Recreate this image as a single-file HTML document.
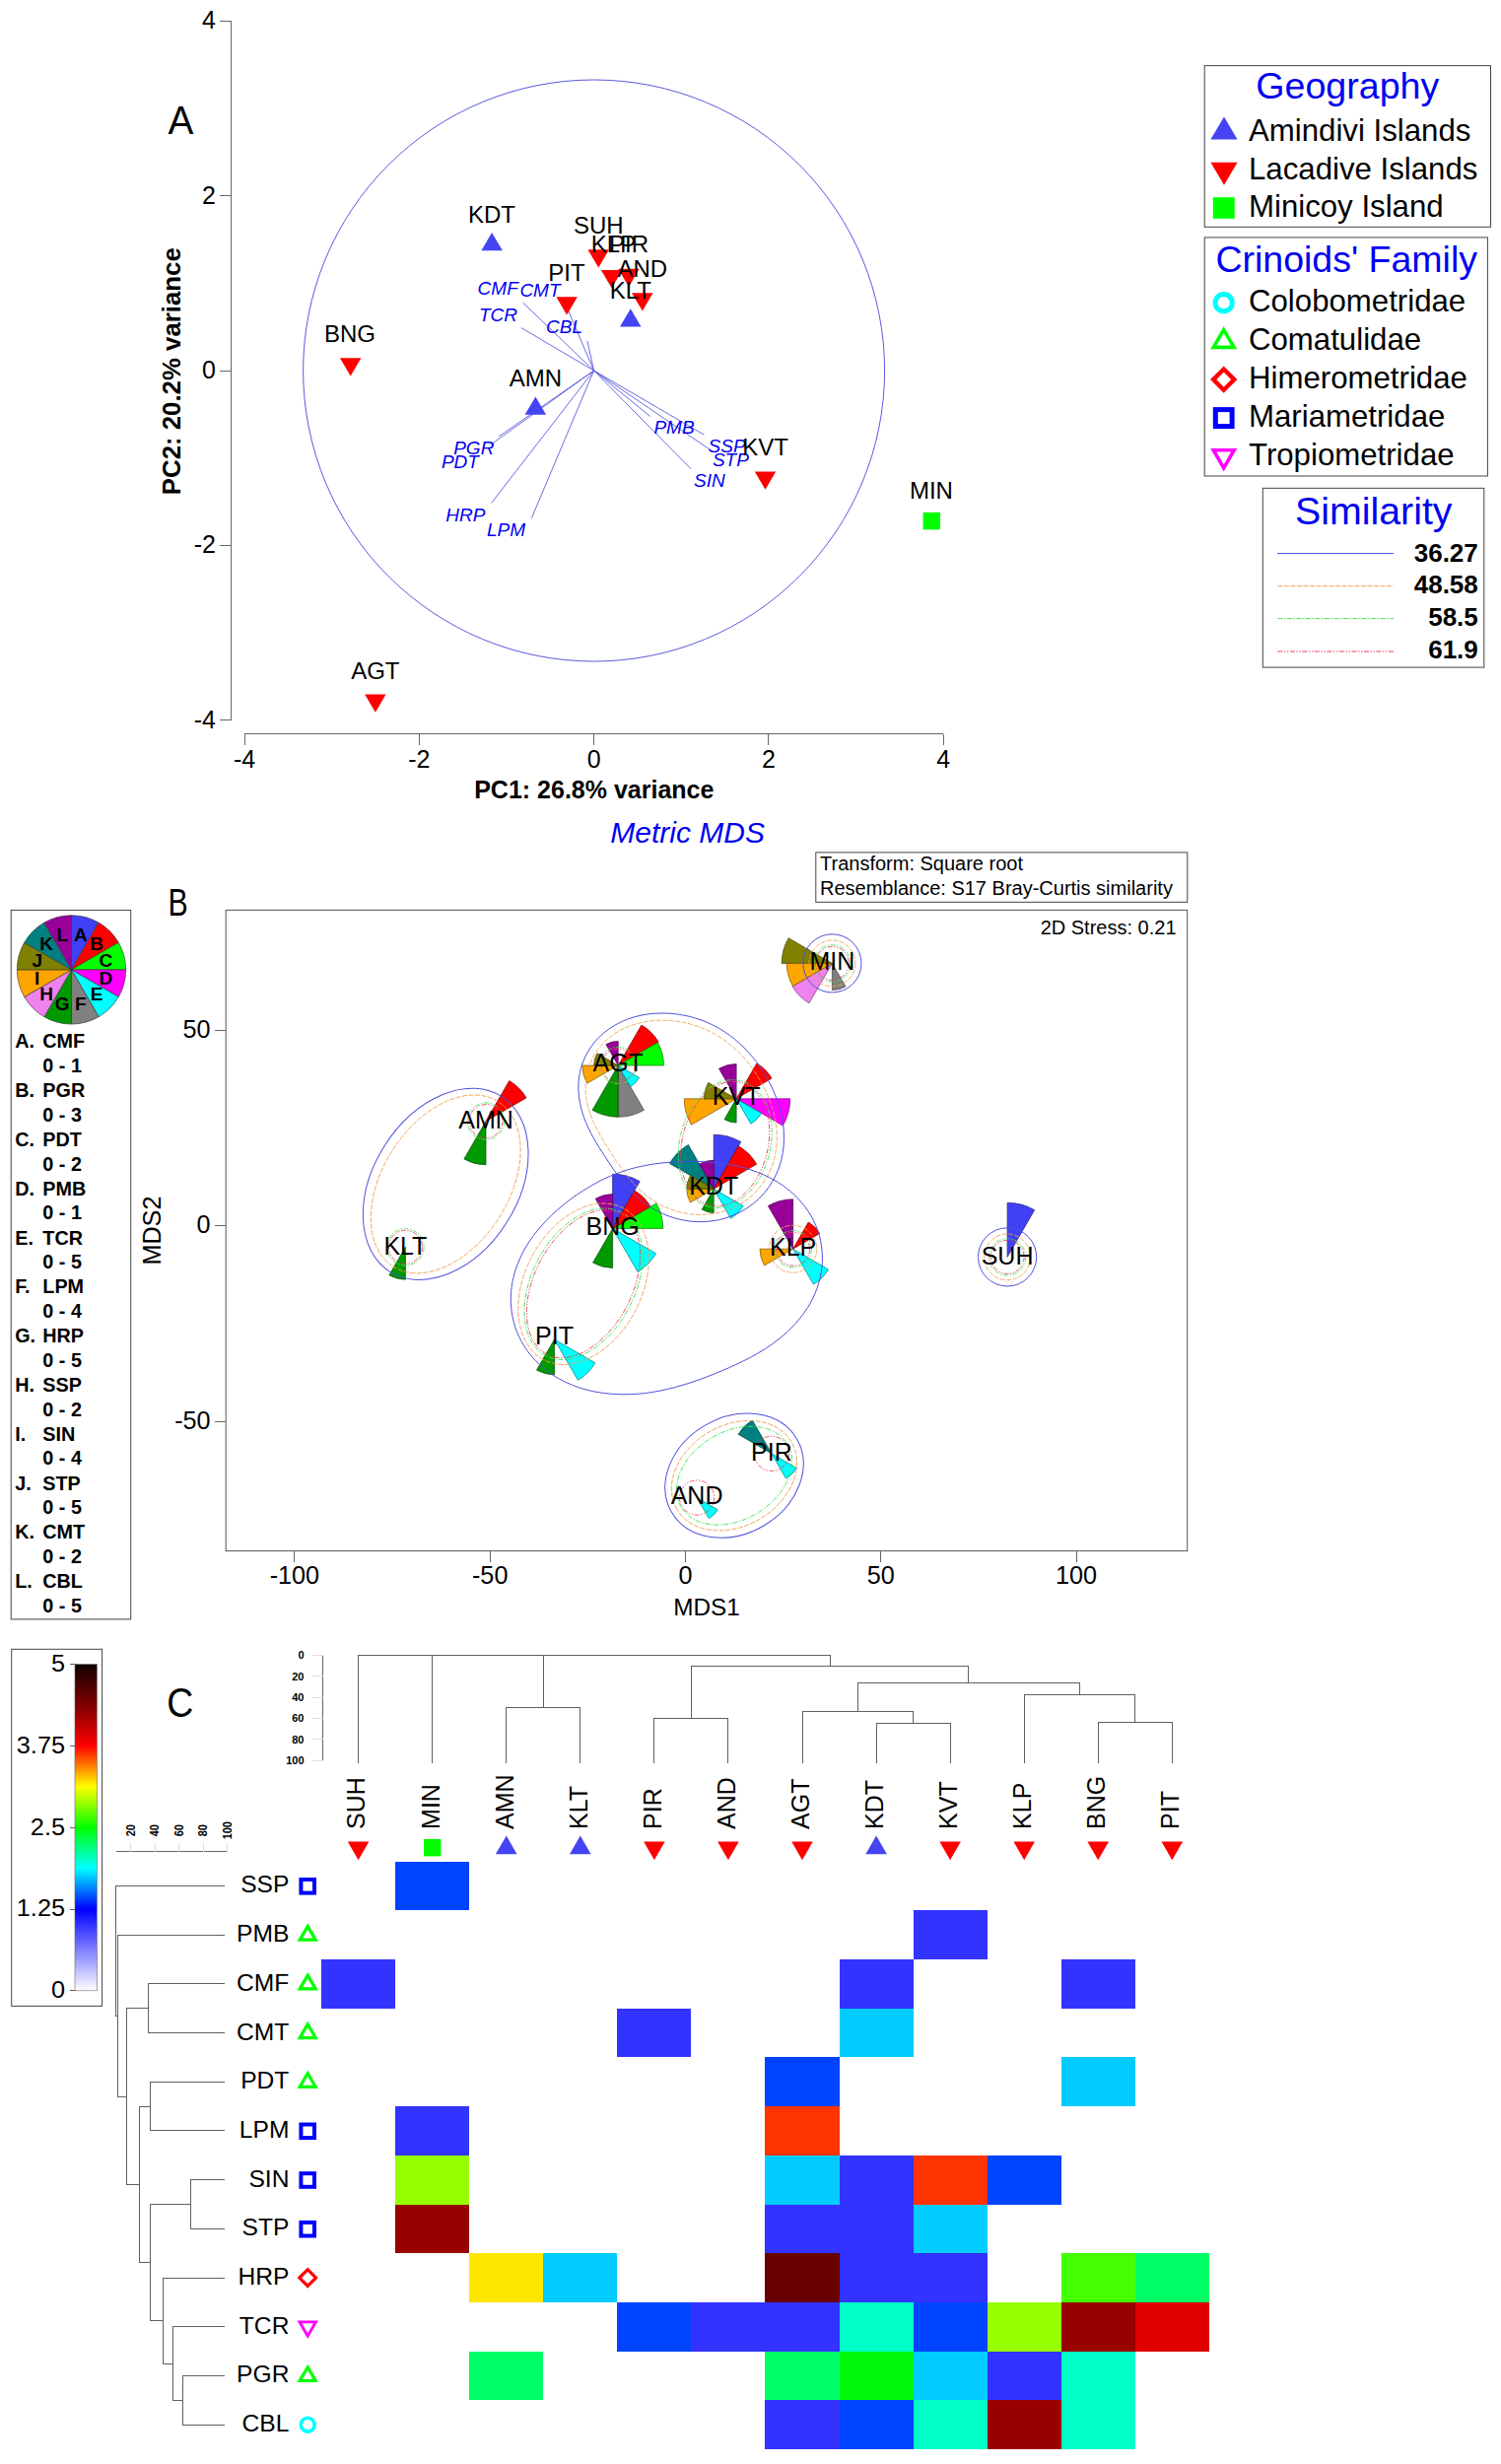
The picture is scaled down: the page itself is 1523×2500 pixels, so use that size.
<!DOCTYPE html>
<html><head><meta charset="utf-8"><title>Figure</title>
<style>
html,body{margin:0;padding:0;background:#fff;}
svg{display:block;font-family:'Liberation Sans', sans-serif;}
</style></head>
<body>
<svg width="1523" height="2500" viewBox="0 0 1523 2500">
<rect width="1523" height="2500" fill="#fff"/>
<g id="panelA">
<line x1="234.3" y1="21.4" x2="234.3" y2="730.6" stroke="#666" stroke-width="1"  shape-rendering="crispEdges"/>
<line x1="223.3" y1="21.4" x2="234.3" y2="21.4" stroke="#666" stroke-width="1"  shape-rendering="crispEdges"/>
<text font-size="25" text-anchor="end" x="219.0" y="29.4">4</text>
<line x1="223.3" y1="198.7" x2="234.3" y2="198.7" stroke="#666" stroke-width="1"  shape-rendering="crispEdges"/>
<text font-size="25" text-anchor="end" x="219.0" y="206.7">2</text>
<line x1="223.3" y1="376.0" x2="234.3" y2="376.0" stroke="#666" stroke-width="1"  shape-rendering="crispEdges"/>
<text font-size="25" text-anchor="end" x="219.0" y="384.0">0</text>
<line x1="223.3" y1="553.3" x2="234.3" y2="553.3" stroke="#666" stroke-width="1"  shape-rendering="crispEdges"/>
<text font-size="25" text-anchor="end" x="219.0" y="561.3">-2</text>
<line x1="223.3" y1="730.6" x2="234.3" y2="730.6" stroke="#666" stroke-width="1"  shape-rendering="crispEdges"/>
<text font-size="25" text-anchor="end" x="219.0" y="738.6">-4</text>
<line x1="248.0" y1="744.6" x2="957.2" y2="744.6" stroke="#666" stroke-width="1"  shape-rendering="crispEdges"/>
<line x1="248.0" y1="744.6" x2="248.0" y2="755.6" stroke="#666" stroke-width="1"  shape-rendering="crispEdges"/>
<text font-size="25" text-anchor="middle" x="248.0" y="778.8">-4</text>
<line x1="425.3" y1="744.6" x2="425.3" y2="755.6" stroke="#666" stroke-width="1"  shape-rendering="crispEdges"/>
<text font-size="25" text-anchor="middle" x="425.3" y="778.8">-2</text>
<line x1="602.6" y1="744.6" x2="602.6" y2="755.6" stroke="#666" stroke-width="1"  shape-rendering="crispEdges"/>
<text font-size="25" text-anchor="middle" x="602.6" y="778.8">0</text>
<line x1="779.9" y1="744.6" x2="779.9" y2="755.6" stroke="#666" stroke-width="1"  shape-rendering="crispEdges"/>
<text font-size="25" text-anchor="middle" x="779.9" y="778.8">2</text>
<line x1="957.2" y1="744.6" x2="957.2" y2="755.6" stroke="#666" stroke-width="1"  shape-rendering="crispEdges"/>
<text font-size="25" text-anchor="middle" x="957.2" y="778.8">4</text>
<text font-size="25" text-anchor="middle" font-weight="bold" x="602.8" y="809.8">PC1: 26.8% variance</text>
<text font-size="25.8" text-anchor="middle" font-weight="bold" x="182.7" y="376.7" transform="rotate(-90 182.7 376.7)">PC2: 20.2% variance</text>
<text font-size="30" text-anchor="middle" fill="#0000f0" font-style="italic" x="697.7" y="854.6">Metric MDS</text>
<text font-size="40" transform="translate(170.4 136.0) scale(0.97 1)">A</text>
<circle cx="602.6" cy="376.0" r="295" fill="none" stroke="#5a5ae0" stroke-width="1"/>
<line x1="602.6" y1="376.0" x2="530.6" y2="307.1" stroke="#5a5ae0" stroke-width="0.9" />
<line x1="602.6" y1="376.0" x2="529.0" y2="332.7" stroke="#5a5ae0" stroke-width="0.9" />
<line x1="602.6" y1="376.0" x2="574.0" y2="309.0" stroke="#5a5ae0" stroke-width="0.9" />
<line x1="602.6" y1="376.0" x2="595.9" y2="345.8" stroke="#5a5ae0" stroke-width="0.9" />
<line x1="602.6" y1="376.0" x2="506.1" y2="442.9" stroke="#5a5ae0" stroke-width="0.9" />
<line x1="602.6" y1="376.0" x2="497.6" y2="451.4" stroke="#5a5ae0" stroke-width="0.9" />
<line x1="602.6" y1="376.0" x2="498.6" y2="510.4" stroke="#5a5ae0" stroke-width="0.9" />
<line x1="602.6" y1="376.0" x2="539.4" y2="525.6" stroke="#5a5ae0" stroke-width="0.9" />
<line x1="602.6" y1="376.0" x2="659.8" y2="422.5" stroke="#5a5ae0" stroke-width="0.9" />
<line x1="602.6" y1="376.0" x2="714.5" y2="441.2" stroke="#5a5ae0" stroke-width="0.9" />
<line x1="602.6" y1="376.0" x2="719.8" y2="455.8" stroke="#5a5ae0" stroke-width="0.9" />
<line x1="602.6" y1="376.0" x2="701.1" y2="475.8" stroke="#5a5ae0" stroke-width="0.9" />
<polygon points="499.1,236.0 509.9,254.3 488.4,254.3" fill="#4444f2"/>
<polygon points="564.4,301.3 585.9,301.3 575.1,319.6" fill="#ff0000"/>
<polygon points="596.5,253.3 618.0,253.3 607.3,271.6" fill="#ff0000"/>
<polygon points="609.9,274.0 631.4,274.0 620.6,292.3" fill="#ff0000"/>
<polygon points="627.2,272.7 648.8,272.7 638.0,291.0" fill="#ff0000"/>
<polygon points="641.0,297.3 662.5,297.3 651.8,315.6" fill="#ff0000"/>
<polygon points="639.8,313.2 650.5,331.5 629.0,331.5" fill="#4444f2"/>
<polygon points="543.4,402.5 554.1,420.8 532.6,420.8" fill="#4444f2"/>
<polygon points="765.8,478.5 787.2,478.5 776.5,496.8" fill="#ff0000"/>
<polygon points="344.9,363.3 366.4,363.3 355.7,381.6" fill="#ff0000"/>
<polygon points="370.1,704.4 391.6,704.4 380.9,722.7" fill="#ff0000"/>
<rect x="936.6" y="519.9" width="17.4" height="17.4" fill="#00ff00" />
<text font-size="19" fill="#0000f0" font-style="italic" x="484.6" y="299.0">CMF</text>
<text font-size="19" fill="#0000f0" font-style="italic" x="527.4" y="300.9">CMT</text>
<text font-size="19" fill="#0000f0" font-style="italic" x="486.0" y="325.6">TCR</text>
<text font-size="19" fill="#0000f0" font-style="italic" x="554.0" y="338.2">CBL</text>
<text font-size="19" fill="#0000f0" font-style="italic" x="460.2" y="461.0">PGR</text>
<text font-size="19" fill="#0000f0" font-style="italic" x="447.9" y="474.9">PDT</text>
<text font-size="19" fill="#0000f0" font-style="italic" x="452.2" y="528.5">HRP</text>
<text font-size="19" fill="#0000f0" font-style="italic" x="494.0" y="544.0">LPM</text>
<text font-size="19" fill="#0000f0" font-style="italic" x="663.4" y="440.3">PMB</text>
<text font-size="19" fill="#0000f0" font-style="italic" x="718.6" y="458.6">SSP</text>
<text font-size="19" fill="#0000f0" font-style="italic" x="722.9" y="472.8">STP</text>
<text font-size="19" fill="#0000f0" font-style="italic" x="704.0" y="494.0">SIN</text>
<text font-size="24" text-anchor="middle" x="499.0" y="225.8">KDT</text>
<text font-size="24" text-anchor="middle" x="607.3" y="236.8">SUH</text>
<text font-size="24" text-anchor="middle" x="622.5" y="256.0">KLP</text>
<text font-size="24" text-anchor="middle" x="638.0" y="256.0">PIR</text>
<text font-size="24" text-anchor="middle" x="651.8" y="281.3">AND</text>
<text font-size="24" text-anchor="middle" x="575.0" y="285.3">PIT</text>
<text font-size="24" text-anchor="middle" x="639.8" y="302.6">KLT</text>
<text font-size="24" text-anchor="middle" x="543.4" y="391.9">AMN</text>
<text font-size="24" text-anchor="middle" x="776.5" y="461.7">KVT</text>
<text font-size="24" text-anchor="middle" x="355.0" y="346.7">BNG</text>
<text font-size="24" text-anchor="middle" x="380.8" y="688.6">AGT</text>
<text font-size="24" text-anchor="middle" x="944.9" y="506.0">MIN</text>
</g>
<g id="legends">
<rect x="1222.2" y="66.6" width="290.3" height="163.7" fill="none" stroke="#444" stroke-width="1" />
<text font-size="37.6" text-anchor="middle" fill="#0000f0" x="1367.3" y="100.4">Geography</text>
<polygon points="1242.0,118.4 1255.6,141.5 1228.4,141.5" fill="#4444f2"/>
<text font-size="31.2" x="1267.0" y="142.8">Amindivi Islands</text>
<polygon points="1228.4,164.7 1255.6,164.7 1242.0,187.8" fill="#ff0000"/>
<text font-size="31.2" x="1267.0" y="181.5">Lacadive Islands</text>
<rect x="1230.8" y="200.2" width="21.9" height="21.6" fill="#00ff00" />
<text font-size="31.2" x="1267.0" y="220.2">Minicoy Island</text>
<rect x="1222.2" y="240.9" width="287.2" height="242.1" fill="none" stroke="#444" stroke-width="1" />
<text font-size="37.5" text-anchor="middle" fill="#0000f0" x="1366.2" y="276.1">Crinoids' Family</text>
<circle cx="1241.7" cy="307.2" r="8.6" fill="none" stroke="#00ffff" stroke-width="5"/>
<text font-size="31.2" x="1267.0" y="316.1">Colobometridae</text>
<polygon points="1241.7,334.6 1252.1000000000001,352.4 1231.3,352.4" fill="none" stroke="#00ff00" stroke-width="3.6"/>
<text font-size="31.2" x="1267.0" y="355.0">Comatulidae</text>
<polygon points="1241.7,374.5 1252.3,385.1 1241.7,395.7 1231.1000000000001,385.1" fill="none" stroke="#ff0000" stroke-width="4.4"/>
<text font-size="31.2" x="1267.0" y="394.1">Himerometridae</text>
<rect x="1233.3" y="415.6" width="16.8" height="17.0" fill="none" stroke="#0000ff" stroke-width="5" />
<text font-size="31.2" x="1267.0" y="432.9">Mariametridae</text>
<polygon points="1231.3,456.8 1252.1000000000001,456.8 1241.7,474.8" fill="none" stroke="#ff00ff" stroke-width="3.6"/>
<text font-size="31.2" x="1267.0" y="471.6">Tropiometridae</text>
<rect x="1281.3" y="495.3" width="224.5" height="181.8" fill="none" stroke="#444" stroke-width="1" />
<text font-size="39.3" text-anchor="middle" fill="#0000f0" x="1393.8" y="531.8">Similarity</text>
<line x1="1296.4" y1="561.5" x2="1414.1" y2="561.5" stroke="#5050dc" stroke-width="1"  shape-rendering="crispEdges"/>
<line x1="1296.4" y1="594.7" x2="1414.1" y2="594.7" stroke="#f0a050" stroke-width="1" stroke-dasharray="5 1.5"/>
<line x1="1296.4" y1="627.6" x2="1414.1" y2="627.6" stroke="#40e650" stroke-width="1" stroke-dasharray="5 1.5 1.5 1.5"/>
<line x1="1296.4" y1="661.0" x2="1414.1" y2="661.0" stroke="#e8405a" stroke-width="1" stroke-dasharray="5 1.5 1.5 1.5 1.5 1.5"/>
<text font-size="26" text-anchor="end" font-weight="bold" x="1499.8" y="569.9">36.27</text>
<text font-size="26" text-anchor="end" font-weight="bold" x="1499.8" y="602.2">48.58</text>
<text font-size="26" text-anchor="end" font-weight="bold" x="1499.8" y="634.9">58.5</text>
<text font-size="26" text-anchor="end" font-weight="bold" x="1499.8" y="667.8">61.9</text>
</g>
<g id="panelB">
<rect x="11.2" y="923.4" width="121.5" height="719.5" fill="none" stroke="#444" stroke-width="1" />
<path d="M72.5 983.9L72.5 928.7A55.2 55.2 0 0 1 100.1 936.1Z" fill="#4040f5" stroke="#333" stroke-width="0.6" stroke-linejoin="round"/>
<path d="M72.5 983.9L100.1 936.1A55.2 55.2 0 0 1 120.3 956.3Z" fill="#ff0000" stroke="#333" stroke-width="0.6" stroke-linejoin="round"/>
<path d="M72.5 983.9L120.3 956.3A55.2 55.2 0 0 1 127.7 983.9Z" fill="#00ff00" stroke="#333" stroke-width="0.6" stroke-linejoin="round"/>
<path d="M72.5 983.9L127.7 983.9A55.2 55.2 0 0 1 120.3 1011.5Z" fill="#ff00ff" stroke="#333" stroke-width="0.6" stroke-linejoin="round"/>
<path d="M72.5 983.9L120.3 1011.5A55.2 55.2 0 0 1 100.1 1031.7Z" fill="#00ffff" stroke="#333" stroke-width="0.6" stroke-linejoin="round"/>
<path d="M72.5 983.9L100.1 1031.7A55.2 55.2 0 0 1 72.5 1039.1Z" fill="#808080" stroke="#333" stroke-width="0.6" stroke-linejoin="round"/>
<path d="M72.5 983.9L72.5 1039.1A55.2 55.2 0 0 1 44.9 1031.7Z" fill="#009900" stroke="#333" stroke-width="0.6" stroke-linejoin="round"/>
<path d="M72.5 983.9L44.9 1031.7A55.2 55.2 0 0 1 24.7 1011.5Z" fill="#ee82ee" stroke="#333" stroke-width="0.6" stroke-linejoin="round"/>
<path d="M72.5 983.9L24.7 1011.5A55.2 55.2 0 0 1 17.3 983.9Z" fill="#ffa500" stroke="#333" stroke-width="0.6" stroke-linejoin="round"/>
<path d="M72.5 983.9L17.3 983.9A55.2 55.2 0 0 1 24.7 956.3Z" fill="#808000" stroke="#333" stroke-width="0.6" stroke-linejoin="round"/>
<path d="M72.5 983.9L24.7 956.3A55.2 55.2 0 0 1 44.9 936.1Z" fill="#008080" stroke="#333" stroke-width="0.6" stroke-linejoin="round"/>
<path d="M72.5 983.9L44.9 936.1A55.2 55.2 0 0 1 72.5 928.7Z" fill="#990099" stroke="#333" stroke-width="0.6" stroke-linejoin="round"/>
<text font-size="19" text-anchor="middle" font-weight="bold" x="81.8" y="955.1">A</text>
<text font-size="19" text-anchor="middle" font-weight="bold" x="98.0" y="964.4">B</text>
<text font-size="19" text-anchor="middle" font-weight="bold" x="107.3" y="980.6">C</text>
<text font-size="19" text-anchor="middle" font-weight="bold" x="107.3" y="999.2">D</text>
<text font-size="19" text-anchor="middle" font-weight="bold" x="98.0" y="1015.4">E</text>
<text font-size="19" text-anchor="middle" font-weight="bold" x="81.8" y="1024.7">F</text>
<text font-size="19" text-anchor="middle" font-weight="bold" x="63.2" y="1024.7">G</text>
<text font-size="19" text-anchor="middle" font-weight="bold" x="47.0" y="1015.4">H</text>
<text font-size="19" text-anchor="middle" font-weight="bold" x="37.7" y="999.2">I</text>
<text font-size="19" text-anchor="middle" font-weight="bold" x="37.7" y="980.6">J</text>
<text font-size="19" text-anchor="middle" font-weight="bold" x="47.0" y="964.4">K</text>
<text font-size="19" text-anchor="middle" font-weight="bold" x="63.2" y="955.1">L</text>
<text font-size="19.8" font-weight="bold" x="15.2" y="1063.3">A.</text>
<text font-size="19.8" font-weight="bold" x="43.3" y="1063.3">CMF</text>
<text font-size="19.8" font-weight="bold" x="43.3" y="1088.0">0 - 1</text>
<text font-size="19.8" font-weight="bold" x="15.2" y="1113.1">B.</text>
<text font-size="19.8" font-weight="bold" x="43.3" y="1113.1">PGR</text>
<text font-size="19.8" font-weight="bold" x="43.3" y="1137.8">0 - 3</text>
<text font-size="19.8" font-weight="bold" x="15.2" y="1162.9">C.</text>
<text font-size="19.8" font-weight="bold" x="43.3" y="1162.9">PDT</text>
<text font-size="19.8" font-weight="bold" x="43.3" y="1187.6">0 - 2</text>
<text font-size="19.8" font-weight="bold" x="15.2" y="1212.7">D.</text>
<text font-size="19.8" font-weight="bold" x="43.3" y="1212.7">PMB</text>
<text font-size="19.8" font-weight="bold" x="43.3" y="1237.4">0 - 1</text>
<text font-size="19.8" font-weight="bold" x="15.2" y="1262.5">E.</text>
<text font-size="19.8" font-weight="bold" x="43.3" y="1262.5">TCR</text>
<text font-size="19.8" font-weight="bold" x="43.3" y="1287.2">0 - 5</text>
<text font-size="19.8" font-weight="bold" x="15.2" y="1312.3">F.</text>
<text font-size="19.8" font-weight="bold" x="43.3" y="1312.3">LPM</text>
<text font-size="19.8" font-weight="bold" x="43.3" y="1337.0">0 - 4</text>
<text font-size="19.8" font-weight="bold" x="15.2" y="1362.1">G.</text>
<text font-size="19.8" font-weight="bold" x="43.3" y="1362.1">HRP</text>
<text font-size="19.8" font-weight="bold" x="43.3" y="1386.8">0 - 5</text>
<text font-size="19.8" font-weight="bold" x="15.2" y="1411.9">H.</text>
<text font-size="19.8" font-weight="bold" x="43.3" y="1411.9">SSP</text>
<text font-size="19.8" font-weight="bold" x="43.3" y="1436.6">0 - 2</text>
<text font-size="19.8" font-weight="bold" x="15.2" y="1461.7">I.</text>
<text font-size="19.8" font-weight="bold" x="43.3" y="1461.7">SIN</text>
<text font-size="19.8" font-weight="bold" x="43.3" y="1486.4">0 - 4</text>
<text font-size="19.8" font-weight="bold" x="15.2" y="1511.5">J.</text>
<text font-size="19.8" font-weight="bold" x="43.3" y="1511.5">STP</text>
<text font-size="19.8" font-weight="bold" x="43.3" y="1536.2">0 - 5</text>
<text font-size="19.8" font-weight="bold" x="15.2" y="1561.3">K.</text>
<text font-size="19.8" font-weight="bold" x="43.3" y="1561.3">CMT</text>
<text font-size="19.8" font-weight="bold" x="43.3" y="1586.0">0 - 2</text>
<text font-size="19.8" font-weight="bold" x="15.2" y="1611.1">L.</text>
<text font-size="19.8" font-weight="bold" x="43.3" y="1611.1">CBL</text>
<text font-size="19.8" font-weight="bold" x="43.3" y="1635.8">0 - 5</text>
<rect x="827.8" y="864.9" width="377.0" height="50.4" fill="none" stroke="#444" stroke-width="1" />
<text font-size="20" x="832.0" y="883.0">Transform: Square root</text>
<text font-size="20" x="832.0" y="908.2">Resemblance: S17 Bray-Curtis similarity</text>
<rect x="229.2" y="923.4" width="975.5" height="650.2" fill="none" stroke="#555" stroke-width="1" />
<line x1="218.2" y1="1045.2" x2="229.2" y2="1045.2" stroke="#666" stroke-width="1"  shape-rendering="crispEdges"/>
<text font-size="25.2" text-anchor="end" x="213.6" y="1052.8">50</text>
<line x1="218.2" y1="1243.7" x2="229.2" y2="1243.7" stroke="#666" stroke-width="1"  shape-rendering="crispEdges"/>
<text font-size="25.2" text-anchor="end" x="213.6" y="1251.3">0</text>
<line x1="218.2" y1="1442.2" x2="229.2" y2="1442.2" stroke="#666" stroke-width="1"  shape-rendering="crispEdges"/>
<text font-size="25.2" text-anchor="end" x="213.6" y="1449.8">-50</text>
<line x1="298.9" y1="1573.6" x2="298.9" y2="1584.6" stroke="#666" stroke-width="1"  shape-rendering="crispEdges"/>
<text font-size="25.2" text-anchor="middle" x="298.9" y="1607.2">-100</text>
<line x1="497.2" y1="1573.6" x2="497.2" y2="1584.6" stroke="#666" stroke-width="1"  shape-rendering="crispEdges"/>
<text font-size="25.2" text-anchor="middle" x="497.2" y="1607.2">-50</text>
<line x1="695.5" y1="1573.6" x2="695.5" y2="1584.6" stroke="#666" stroke-width="1"  shape-rendering="crispEdges"/>
<text font-size="25.2" text-anchor="middle" x="695.5" y="1607.2">0</text>
<line x1="893.8" y1="1573.6" x2="893.8" y2="1584.6" stroke="#666" stroke-width="1"  shape-rendering="crispEdges"/>
<text font-size="25.2" text-anchor="middle" x="893.8" y="1607.2">50</text>
<line x1="1092.1" y1="1573.6" x2="1092.1" y2="1584.6" stroke="#666" stroke-width="1"  shape-rendering="crispEdges"/>
<text font-size="25.2" text-anchor="middle" x="1092.1" y="1607.2">100</text>
<text font-size="24.3" text-anchor="middle" x="717.0" y="1638.9">MDS1</text>
<text font-size="25.2" text-anchor="middle" x="162.9" y="1248.6" transform="rotate(-90 162.9 1248.6)">MDS2</text>
<text font-size="20" text-anchor="end" x="1193.5" y="948.2">2D Stress: 0.21</text>
<text font-size="38.4" transform="translate(170.6 929.3) scale(0.79 1)">B</text>
<path d="M844.4 977.4L793.2 977.4A51.2 51.2 0 0 1 800.1 951.8Z" fill="#808000" stroke="#404000" stroke-width="0.7" stroke-linejoin="round"/>
<path d="M844.4 977.4L821.0 1017.8A46.7 46.7 0 0 1 804.0 1000.8Z" fill="#ee82ee" stroke="#733f73" stroke-width="0.7" stroke-linejoin="round"/>
<path d="M844.4 977.4L804.4 1000.5A46.2 46.2 0 0 1 798.2 977.4Z" fill="#ffa500" stroke="#7a5000" stroke-width="0.7" stroke-linejoin="round"/>
<path d="M844.4 977.4L858.0 1001.0A27.2 27.2 0 0 1 844.4 1004.6Z" fill="#808080" stroke="#404040" stroke-width="0.7" stroke-linejoin="round"/>
<path d="M627.2 1081.0L653.4 1126.3A52.3 52.3 0 0 1 627.2 1133.3Z" fill="#808080" stroke="#404040" stroke-width="0.7" stroke-linejoin="round"/>
<path d="M627.2 1081.0L627.2 1133.3A52.3 52.3 0 0 1 601.1 1126.3Z" fill="#009900" stroke="#004800" stroke-width="0.7" stroke-linejoin="round"/>
<path d="M627.2 1081.0L650.9 1040.0A47.3 47.3 0 0 1 668.2 1057.3Z" fill="#ff0000" stroke="#7a0000" stroke-width="0.7" stroke-linejoin="round"/>
<path d="M627.2 1081.0L667.3 1057.8A46.3 46.3 0 0 1 673.5 1081.0Z" fill="#00ff00" stroke="#007a00" stroke-width="0.7" stroke-linejoin="round"/>
<path d="M627.2 1081.0L595.7 1099.2A36.4 36.4 0 0 1 590.8 1081.0Z" fill="#ffa500" stroke="#7a5000" stroke-width="0.7" stroke-linejoin="round"/>
<path d="M627.2 1081.0L648.7 1093.4A24.8 24.8 0 0 1 639.6 1102.5Z" fill="#00ffff" stroke="#007a7a" stroke-width="0.7" stroke-linejoin="round"/>
<path d="M627.2 1081.0L602.6 1081.0A24.6 24.6 0 0 1 605.9 1068.7Z" fill="#808000" stroke="#404000" stroke-width="0.7" stroke-linejoin="round"/>
<path d="M627.2 1081.0L614.9 1059.7A24.6 24.6 0 0 1 627.2 1056.4Z" fill="#990099" stroke="#480048" stroke-width="0.7" stroke-linejoin="round"/>
<path d="M747.1 1114.8L801.7 1114.8A54.6 54.6 0 0 1 794.4 1142.1Z" fill="#ff00ff" stroke="#7a007a" stroke-width="0.7" stroke-linejoin="round"/>
<path d="M747.1 1114.8L701.4 1141.2A52.8 52.8 0 0 1 694.3 1114.8Z" fill="#ffa500" stroke="#7a5000" stroke-width="0.7" stroke-linejoin="round"/>
<path d="M747.1 1114.8L767.8 1078.9A41.4 41.4 0 0 1 783.0 1094.1Z" fill="#ff0000" stroke="#7a0000" stroke-width="0.7" stroke-linejoin="round"/>
<path d="M747.1 1114.8L729.5 1084.3A35.2 35.2 0 0 1 747.1 1079.6Z" fill="#990099" stroke="#480048" stroke-width="0.7" stroke-linejoin="round"/>
<path d="M747.1 1114.8L714.3 1114.8A32.8 32.8 0 0 1 718.7 1098.4Z" fill="#808000" stroke="#404000" stroke-width="0.7" stroke-linejoin="round"/>
<path d="M747.1 1114.8L772.6 1129.5A29.4 29.4 0 0 1 761.8 1140.3Z" fill="#00ffff" stroke="#007a7a" stroke-width="0.7" stroke-linejoin="round"/>
<path d="M747.1 1114.8L747.1 1139.1A24.3 24.3 0 0 1 735.0 1135.8Z" fill="#009900" stroke="#004800" stroke-width="0.7" stroke-linejoin="round"/>
<path d="M724.2 1206.3L724.2 1151.2A55.1 55.1 0 0 1 751.8 1158.6Z" fill="#4040f5" stroke="#20207a" stroke-width="0.7" stroke-linejoin="round"/>
<path d="M724.2 1206.3L679.4 1180.5A51.7 51.7 0 0 1 698.4 1161.5Z" fill="#008080" stroke="#004040" stroke-width="0.7" stroke-linejoin="round"/>
<path d="M724.2 1206.3L749.3 1162.8A50.2 50.2 0 0 1 767.7 1181.2Z" fill="#ff0000" stroke="#7a0000" stroke-width="0.7" stroke-linejoin="round"/>
<path d="M724.2 1206.3L754.2 1223.6A34.6 34.6 0 0 1 741.5 1236.3Z" fill="#00ffff" stroke="#007a7a" stroke-width="0.7" stroke-linejoin="round"/>
<path d="M724.2 1206.3L709.6 1181.1A29.1 29.1 0 0 1 724.2 1177.2Z" fill="#990099" stroke="#480048" stroke-width="0.7" stroke-linejoin="round"/>
<path d="M724.2 1206.3L700.5 1220.0A27.4 27.4 0 0 1 696.8 1206.3Z" fill="#ffa500" stroke="#7a5000" stroke-width="0.7" stroke-linejoin="round"/>
<path d="M724.2 1206.3L696.8 1206.3A27.4 27.4 0 0 1 700.5 1192.6Z" fill="#808000" stroke="#404000" stroke-width="0.7" stroke-linejoin="round"/>
<path d="M724.2 1206.3L724.2 1230.4A24.1 24.1 0 0 1 712.2 1227.2Z" fill="#009900" stroke="#004800" stroke-width="0.7" stroke-linejoin="round"/>
<path d="M621.6 1246.4L621.6 1191.2A55.2 55.2 0 0 1 649.2 1198.6Z" fill="#4040f5" stroke="#20207a" stroke-width="0.7" stroke-linejoin="round"/>
<path d="M621.6 1246.4L665.9 1220.9A51.1 51.1 0 0 1 672.7 1246.4Z" fill="#00ff00" stroke="#007a00" stroke-width="0.7" stroke-linejoin="round"/>
<path d="M621.6 1246.4L665.6 1271.8A50.8 50.8 0 0 1 647.0 1290.4Z" fill="#00ffff" stroke="#007a7a" stroke-width="0.7" stroke-linejoin="round"/>
<path d="M621.6 1246.4L643.8 1208.0A44.3 44.3 0 0 1 660.0 1224.2Z" fill="#ff0000" stroke="#7a0000" stroke-width="0.7" stroke-linejoin="round"/>
<path d="M621.6 1246.4L621.6 1286.5A40.1 40.1 0 0 1 601.6 1281.1Z" fill="#009900" stroke="#004800" stroke-width="0.7" stroke-linejoin="round"/>
<path d="M621.6 1246.4L604.2 1216.3A34.8 34.8 0 0 1 621.6 1211.6Z" fill="#990099" stroke="#480048" stroke-width="0.7" stroke-linejoin="round"/>
<path d="M493.0 1137.6L516.7 1096.6A47.4 47.4 0 0 1 534.0 1113.9Z" fill="#ff0000" stroke="#7a0000" stroke-width="0.7" stroke-linejoin="round"/>
<path d="M493.0 1137.6L493.0 1181.8A44.2 44.2 0 0 1 470.9 1175.9Z" fill="#009900" stroke="#004800" stroke-width="0.7" stroke-linejoin="round"/>
<path d="M411.4 1265.3L411.4 1298.2A32.9 32.9 0 0 1 394.9 1293.8Z" fill="#009900" stroke="#004800" stroke-width="0.7" stroke-linejoin="round"/>
<path d="M562.5 1358.9L603.9 1382.8A47.8 47.8 0 0 1 586.4 1400.3Z" fill="#00ffff" stroke="#007a7a" stroke-width="0.7" stroke-linejoin="round"/>
<path d="M562.5 1358.9L562.5 1394.8A35.9 35.9 0 0 1 544.5 1390.0Z" fill="#009900" stroke="#004800" stroke-width="0.7" stroke-linejoin="round"/>
<path d="M804.6 1267.2L779.4 1223.6A50.4 50.4 0 0 1 804.6 1216.8Z" fill="#990099" stroke="#480048" stroke-width="0.7" stroke-linejoin="round"/>
<path d="M804.6 1267.2L840.5 1288.0A41.5 41.5 0 0 1 825.4 1303.1Z" fill="#00ffff" stroke="#007a7a" stroke-width="0.7" stroke-linejoin="round"/>
<path d="M804.6 1267.2L775.5 1284.0A33.6 33.6 0 0 1 771.0 1267.2Z" fill="#ffa500" stroke="#7a5000" stroke-width="0.7" stroke-linejoin="round"/>
<path d="M804.6 1267.2L820.2 1240.1A31.3 31.3 0 0 1 831.7 1251.5Z" fill="#ff0000" stroke="#7a0000" stroke-width="0.7" stroke-linejoin="round"/>
<path d="M1022.1 1275.4L1022.1 1220.3A55.1 55.1 0 0 1 1049.7 1227.7Z" fill="#4040f5" stroke="#20207a" stroke-width="0.7" stroke-linejoin="round"/>
<path d="M782.9 1474.8L749.1 1455.3A39.0 39.0 0 0 1 763.4 1441.0Z" fill="#008080" stroke="#004040" stroke-width="0.7" stroke-linejoin="round"/>
<path d="M782.9 1474.8L808.3 1489.5A29.3 29.3 0 0 1 797.5 1500.2Z" fill="#00ffff" stroke="#007a7a" stroke-width="0.7" stroke-linejoin="round"/>
<path d="M707.1 1519.5L728.3 1531.8A24.5 24.5 0 0 1 719.4 1540.7Z" fill="#00ffff" stroke="#007a7a" stroke-width="0.7" stroke-linejoin="round"/>
<circle cx="844.4" cy="977.4" r="29.6" fill="none" stroke="#5050dc" stroke-width="1" />
<circle cx="844.4" cy="977.4" r="23.4" fill="none" stroke="#f0a050" stroke-width="0.85" stroke-dasharray="5 1.5"/>
<circle cx="844.4" cy="977.4" r="18.7" fill="none" stroke="#40e650" stroke-width="0.85" stroke-dasharray="5 1.5 1.5 1.5"/>
<circle cx="844.4" cy="977.4" r="17.0" fill="none" stroke="#e8405a" stroke-width="0.85" stroke-dasharray="5 1.5 1.5 1.5 1.5 1.5"/>
<circle cx="1022.1" cy="1275.4" r="29.6" fill="none" stroke="#5050dc" stroke-width="1" />
<circle cx="1022.1" cy="1275.4" r="23.4" fill="none" stroke="#f0a050" stroke-width="0.85" stroke-dasharray="5 1.5"/>
<circle cx="1022.1" cy="1275.4" r="18.7" fill="none" stroke="#40e650" stroke-width="0.85" stroke-dasharray="5 1.5 1.5 1.5"/>
<circle cx="1022.1" cy="1275.4" r="17.0" fill="none" stroke="#e8405a" stroke-width="0.85" stroke-dasharray="5 1.5 1.5 1.5 1.5 1.5"/>
<ellipse cx="452.2" cy="1201.4" rx="105.4" ry="73.2" transform="rotate(122.6 452.2 1201.4)" fill="none" stroke="#5050dc" stroke-width="1" />
<ellipse cx="452.2" cy="1201.4" rx="99.2" ry="64.0" transform="rotate(122.6 452.2 1201.4)" fill="none" stroke="#f0a050" stroke-width="0.85" stroke-dasharray="5 1.5"/>
<circle cx="493.0" cy="1137.6" r="18.7" fill="none" stroke="#40e650" stroke-width="0.85" stroke-dasharray="5 1.5 1.5 1.5"/>
<circle cx="493.0" cy="1137.6" r="17.0" fill="none" stroke="#e8405a" stroke-width="0.85" stroke-dasharray="5 1.5 1.5 1.5 1.5 1.5"/>
<circle cx="411.4" cy="1265.3" r="18.7" fill="none" stroke="#40e650" stroke-width="0.85" stroke-dasharray="5 1.5 1.5 1.5"/>
<circle cx="411.4" cy="1265.3" r="17.0" fill="none" stroke="#e8405a" stroke-width="0.85" stroke-dasharray="5 1.5 1.5 1.5 1.5 1.5"/>
<circle cx="627.2" cy="1081.0" r="18.7" fill="none" stroke="#40e650" stroke-width="0.85" stroke-dasharray="5 1.5 1.5 1.5"/>
<circle cx="627.2" cy="1081.0" r="17.0" fill="none" stroke="#e8405a" stroke-width="0.85" stroke-dasharray="5 1.5 1.5 1.5 1.5 1.5"/>
<ellipse cx="745.0" cy="1497.2" rx="73.6" ry="59.0" transform="rotate(149.5 745.0 1497.2)" fill="none" stroke="#5050dc" stroke-width="1" />
<ellipse cx="745.0" cy="1497.2" rx="67.4" ry="51.1" transform="rotate(149.5 745.0 1497.2)" fill="none" stroke="#f0a050" stroke-width="0.85" stroke-dasharray="5 1.5"/>
<ellipse cx="745.0" cy="1497.2" rx="62.7" ry="44.7" transform="rotate(149.5 745.0 1497.2)" fill="none" stroke="#40e650" stroke-width="0.85" stroke-dasharray="5 1.5 1.5 1.5"/>
<circle cx="782.9" cy="1474.8" r="17.6" fill="none" stroke="#e8405a" stroke-width="0.85" stroke-dasharray="5 1.5 1.5 1.5 1.5 1.5"/>
<circle cx="707.1" cy="1519.5" r="17.6" fill="none" stroke="#e8405a" stroke-width="0.85" stroke-dasharray="5 1.5 1.5 1.5 1.5 1.5"/>
<circle cx="804.6" cy="1267.2" r="24.0" fill="none" stroke="#f0a050" stroke-width="0.85" stroke-dasharray="5 1.5"/>
<circle cx="804.6" cy="1267.2" r="18.7" fill="none" stroke="#40e650" stroke-width="0.85" stroke-dasharray="5 1.5 1.5 1.5"/>
<circle cx="804.6" cy="1267.2" r="17.0" fill="none" stroke="#e8405a" stroke-width="0.85" stroke-dasharray="5 1.5 1.5 1.5 1.5 1.5"/>
<ellipse cx="735.7" cy="1160.5" rx="65.9" ry="46.0" transform="rotate(104.1 735.7 1160.5)" fill="none" stroke="#40e650" stroke-width="0.85" stroke-dasharray="5 1.5 1.5 1.5"/>
<ellipse cx="735.7" cy="1160.5" rx="64.2" ry="43.5" transform="rotate(104.1 735.7 1160.5)" fill="none" stroke="#e8405a" stroke-width="0.85" stroke-dasharray="5 1.5 1.5 1.5 1.5 1.5"/>
<ellipse cx="592.0" cy="1302.7" rx="86.9" ry="59.3" transform="rotate(117.7 592.0 1302.7)" fill="none" stroke="#f0a050" stroke-width="0.85" stroke-dasharray="5 1.5"/>
<ellipse cx="592.0" cy="1302.7" rx="82.2" ry="52.2" transform="rotate(117.7 592.0 1302.7)" fill="none" stroke="#40e650" stroke-width="0.85" stroke-dasharray="5 1.5 1.5 1.5"/>
<ellipse cx="592.0" cy="1302.7" rx="80.5" ry="49.5" transform="rotate(117.7 592.0 1302.7)" fill="none" stroke="#e8405a" stroke-width="0.85" stroke-dasharray="5 1.5 1.5 1.5 1.5 1.5"/>
<path d="M592.0 1132.3C590.6 1128.2 589.4 1123.9 588.5 1119.5C587.7 1115.1 587.0 1110.5 586.9 1105.8C586.8 1101.2 587.0 1096.4 587.8 1091.7C588.5 1087.1 589.7 1082.3 591.4 1077.9C593.1 1073.4 595.3 1069.0 597.9 1064.9C600.4 1060.8 603.5 1056.9 606.9 1053.4C610.2 1049.9 614.0 1046.7 617.9 1044.0C621.9 1041.2 626.2 1038.8 630.5 1036.7C634.9 1034.7 639.5 1033.0 644.1 1031.7C648.7 1030.4 653.4 1029.5 658.0 1028.9C662.7 1028.3 667.4 1028.0 672.0 1028.0C676.6 1028.0 681.2 1028.3 685.7 1028.8C690.2 1029.4 694.7 1030.2 699.1 1031.2C703.4 1032.3 707.7 1033.6 711.8 1035.1C715.9 1036.6 720.0 1038.3 723.9 1040.3C727.8 1042.2 731.5 1044.4 735.1 1046.8C738.8 1049.1 742.2 1051.7 745.5 1054.4C748.9 1057.1 752.0 1060.0 755.0 1063.0C758.1 1066.0 760.9 1069.2 763.6 1072.5C766.4 1075.8 769.0 1079.3 771.4 1082.9C773.8 1086.4 776.2 1090.1 778.3 1094.0C780.5 1097.8 782.5 1101.8 784.4 1105.9C786.2 1110.0 787.9 1114.3 789.4 1118.7C790.9 1123.1 792.2 1127.6 793.2 1132.3C794.1 1137.0 794.9 1141.8 795.2 1146.7C795.6 1151.6 795.6 1156.7 795.2 1161.7C794.8 1166.6 794.1 1171.7 792.8 1176.7C791.6 1181.6 789.9 1186.5 787.7 1191.2C785.6 1195.9 783.0 1200.4 780.0 1204.6C777.0 1208.8 773.6 1212.9 769.8 1216.4C766.1 1220.0 762.0 1223.2 757.6 1226.0C753.3 1228.8 748.7 1231.2 744.0 1233.2C739.3 1235.1 734.3 1236.6 729.4 1237.7C724.5 1238.7 719.4 1239.4 714.5 1239.6C709.6 1239.8 704.6 1239.6 699.8 1239.0C695.0 1238.5 690.3 1237.5 685.7 1236.2C681.2 1235.0 676.8 1233.4 672.7 1231.5C668.5 1229.7 664.6 1227.6 660.8 1225.3C657.1 1223.0 653.6 1220.4 650.3 1217.8C647.1 1215.1 644.0 1212.3 641.2 1209.5C638.4 1206.6 635.8 1203.7 633.3 1200.7C630.8 1197.7 628.5 1194.7 626.3 1191.8C624.1 1188.8 622.0 1185.8 620.0 1182.8C617.9 1179.8 616.0 1176.8 614.0 1173.7C612.0 1170.7 610.1 1167.6 608.1 1164.5C606.2 1161.3 604.2 1158.1 602.3 1154.7C600.4 1151.3 598.5 1147.7 596.8 1144.0C595.1 1140.3 593.4 1136.4 592.0 1132.3Z" fill="none" stroke="#5050dc" stroke-width="1" />
<path d="M598.8 1130.0C597.5 1126.2 596.4 1122.2 595.6 1118.2C594.8 1114.1 594.2 1109.9 594.1 1105.7C594.0 1101.4 594.2 1097.1 594.9 1092.9C595.6 1088.7 596.7 1084.4 598.2 1080.4C599.7 1076.4 601.6 1072.4 603.9 1068.7C606.3 1065.1 609.0 1061.6 612.0 1058.4C615.1 1055.3 618.5 1052.4 622.1 1049.8C625.7 1047.3 629.6 1045.1 633.6 1043.2C637.6 1041.4 641.8 1039.9 646.1 1038.7C650.3 1037.5 654.7 1036.6 659.0 1036.0C663.3 1035.4 667.7 1035.2 672.0 1035.2C676.3 1035.2 680.7 1035.5 684.9 1036.0C689.1 1036.5 693.3 1037.2 697.4 1038.2C701.4 1039.2 705.5 1040.4 709.3 1041.8C713.2 1043.3 717.0 1044.9 720.6 1046.7C724.3 1048.5 727.8 1050.6 731.2 1052.8C734.6 1055.0 737.9 1057.4 741.0 1060.0C744.1 1062.5 747.1 1065.2 749.9 1068.1C752.8 1071.0 755.5 1074.0 758.1 1077.1C760.7 1080.3 763.1 1083.5 765.5 1086.9C767.8 1090.3 770.0 1093.9 772.0 1097.5C774.1 1101.2 776.0 1104.9 777.8 1108.8C779.6 1112.7 781.2 1116.8 782.6 1120.9C784.0 1125.1 785.2 1129.4 786.1 1133.8C787.0 1138.2 787.7 1142.7 788.1 1147.2C788.4 1151.8 788.4 1156.5 788.1 1161.1C787.7 1165.7 787.0 1170.4 785.8 1174.9C784.7 1179.4 783.1 1183.9 781.2 1188.2C779.2 1192.5 776.9 1196.6 774.1 1200.5C771.4 1204.3 768.3 1208.0 764.9 1211.2C761.5 1214.5 757.7 1217.4 753.7 1220.0C749.8 1222.5 745.5 1224.7 741.2 1226.5C736.9 1228.3 732.4 1229.7 727.8 1230.6C723.3 1231.6 718.7 1232.2 714.2 1232.4C709.6 1232.6 705.0 1232.4 700.6 1231.9C696.2 1231.4 691.8 1230.5 687.7 1229.3C683.5 1228.2 679.4 1226.6 675.6 1225.0C671.7 1223.3 668.1 1221.3 664.6 1219.1C661.2 1217.0 657.9 1214.6 654.9 1212.2C651.8 1209.7 649.0 1207.1 646.3 1204.4C643.6 1201.7 641.1 1198.9 638.8 1196.1C636.4 1193.2 634.2 1190.4 632.1 1187.5C629.9 1184.6 627.9 1181.7 625.9 1178.7C623.9 1175.8 622.0 1172.8 620.0 1169.8C618.1 1166.8 616.2 1163.8 614.3 1160.7C612.4 1157.6 610.4 1154.5 608.6 1151.2C606.8 1147.9 605.0 1144.5 603.4 1141.0C601.7 1137.5 600.1 1133.8 598.8 1130.0Z" fill="none" stroke="#f0a050" stroke-width="0.85" stroke-dasharray="5 1.5"/>
<path d="M520.8 1296.7C522.3 1290.3 524.5 1283.9 527.1 1278.0C529.6 1272.0 532.8 1266.3 536.2 1261.0C539.6 1255.7 543.4 1250.8 547.3 1246.1C551.1 1241.5 555.3 1237.2 559.4 1233.2C563.6 1229.2 567.8 1225.5 572.1 1222.1C576.4 1218.6 580.7 1215.4 585.1 1212.4C589.4 1209.4 593.8 1206.6 598.3 1204.0C602.7 1201.4 607.2 1198.9 611.7 1196.7C616.3 1194.5 620.9 1192.5 625.5 1190.8C630.2 1189.0 635.0 1187.4 639.8 1186.0C644.6 1184.7 649.5 1183.5 654.4 1182.6C659.3 1181.6 664.3 1180.8 669.4 1180.2C674.5 1179.6 679.7 1179.2 685.0 1178.9C690.2 1178.6 695.6 1178.4 701.1 1178.4C706.7 1178.4 712.4 1178.5 718.2 1179.0C724.1 1179.4 730.1 1179.9 736.3 1180.9C742.5 1181.9 748.9 1183.1 755.2 1184.9C761.6 1186.7 768.1 1188.9 774.4 1191.7C780.7 1194.6 787.1 1197.9 793.0 1201.9C798.8 1205.9 804.6 1210.6 809.5 1215.8C814.5 1221.1 819.1 1227.0 822.7 1233.2C826.3 1239.5 829.3 1246.4 831.3 1253.4C833.2 1260.3 834.3 1267.8 834.4 1275.0C834.6 1282.2 833.7 1289.7 832.1 1296.7C830.5 1303.8 827.9 1310.7 824.8 1317.2C821.7 1323.6 817.7 1329.8 813.5 1335.3C809.3 1340.9 804.5 1346.0 799.6 1350.7C794.8 1355.3 789.5 1359.4 784.4 1363.1C779.3 1366.9 774.0 1370.1 768.9 1373.1C763.8 1376.1 758.8 1378.7 753.8 1381.1C748.9 1383.6 744.1 1385.7 739.4 1387.8C734.6 1389.9 730.0 1391.8 725.4 1393.7C720.8 1395.5 716.3 1397.3 711.8 1399.0C707.2 1400.6 702.7 1402.2 698.1 1403.7C693.5 1405.1 688.8 1406.5 684.1 1407.8C679.3 1409.0 674.4 1410.2 669.4 1411.2C664.4 1412.1 659.3 1413.0 654.1 1413.6C648.8 1414.2 643.4 1414.6 637.8 1414.7C632.3 1414.9 626.5 1414.8 620.7 1414.3C614.9 1413.9 608.9 1413.1 602.9 1411.9C597.0 1410.7 590.8 1409.1 584.9 1406.9C578.9 1404.7 572.9 1402.1 567.2 1398.9C561.6 1395.7 556.0 1391.9 550.9 1387.6C545.9 1383.4 541.1 1378.5 537.0 1373.2C533.0 1367.9 529.3 1362.0 526.5 1355.9C523.7 1349.8 521.5 1343.3 520.2 1336.7C518.8 1330.2 518.2 1323.3 518.3 1316.6C518.4 1310.0 519.3 1303.2 520.8 1296.7Z" fill="none" stroke="#5050dc" stroke-width="1" />
<text font-size="25" text-anchor="middle" x="844.4" y="984.1">MIN</text>
<text font-size="25" text-anchor="middle" x="627.2" y="1087.1">AGT</text>
<text font-size="25" text-anchor="middle" x="747.1" y="1120.7">KVT</text>
<text font-size="25" text-anchor="middle" x="724.2" y="1212.4">KDT</text>
<text font-size="25" text-anchor="middle" x="621.6" y="1252.6">BNG</text>
<text font-size="25" text-anchor="middle" x="493.0" y="1144.9">AMN</text>
<text font-size="25" text-anchor="middle" x="411.4" y="1272.7">KLT</text>
<text font-size="25" text-anchor="middle" x="562.5" y="1363.9">PIT</text>
<text font-size="25" text-anchor="middle" x="804.6" y="1274.0">KLP</text>
<text font-size="25" text-anchor="middle" x="1022.1" y="1282.9">SUH</text>
<text font-size="25" text-anchor="middle" x="782.9" y="1481.6">PIR</text>
<text font-size="25" text-anchor="middle" x="707.1" y="1526.3">AND</text>
</g>
<g id="panelC">
<rect x="11.7" y="1673.3" width="91.9" height="362.1" fill="none" stroke="#444" stroke-width="1" />
<defs><linearGradient id="cb" x1="0" y1="1" x2="0" y2="0"><stop offset="0" stop-color="#ffffff"/><stop offset="0.25" stop-color="#0000ff"/><stop offset="0.375" stop-color="#00ffff"/><stop offset="0.5" stop-color="#00ff00"/><stop offset="0.625" stop-color="#ffff00"/><stop offset="0.75" stop-color="#ff0000"/><stop offset="0.875" stop-color="#800000"/><stop offset="1" stop-color="#100000"/></linearGradient></defs>
<rect x="76.0" y="1688.6" width="22.3" height="331.2" fill="url(#cb)" stroke="#666" stroke-width="0.6" />
<line x1="70.6" y1="1688.6" x2="76.0" y2="1688.6" stroke="#606060" stroke-width="1"  shape-rendering="crispEdges"/>
<text font-size="23" text-anchor="end" transform="translate(66.0 1695.9) scale(1.1 1)">5</text>
<line x1="70.6" y1="1771.4" x2="76.0" y2="1771.4" stroke="#606060" stroke-width="1"  shape-rendering="crispEdges"/>
<text font-size="23" text-anchor="end" transform="translate(66.0 1778.7) scale(1.1 1)">3.75</text>
<line x1="70.6" y1="1854.2" x2="76.0" y2="1854.2" stroke="#606060" stroke-width="1"  shape-rendering="crispEdges"/>
<text font-size="23" text-anchor="end" transform="translate(66.0 1861.5) scale(1.1 1)">2.5</text>
<line x1="70.6" y1="1937.0" x2="76.0" y2="1937.0" stroke="#606060" stroke-width="1"  shape-rendering="crispEdges"/>
<text font-size="23" text-anchor="end" transform="translate(66.0 1944.3) scale(1.1 1)">1.25</text>
<line x1="70.6" y1="2019.8" x2="76.0" y2="2019.8" stroke="#606060" stroke-width="1"  shape-rendering="crispEdges"/>
<text font-size="23" text-anchor="end" transform="translate(66.0 2027.1) scale(1.1 1)">0</text>
<text font-size="42.5" transform="translate(169.2 1741.8) scale(0.88 1)">C</text>
<rect x="401.16" y="1888.60" width="75.06" height="49.70" fill="#0044ff" shape-rendering="crispEdges"/>
<rect x="926.58" y="1938.30" width="75.06" height="49.70" fill="#3333ff" shape-rendering="crispEdges"/>
<rect x="326.10" y="1988.00" width="75.06" height="49.70" fill="#3333ff" shape-rendering="crispEdges"/>
<rect x="851.52" y="1988.00" width="75.06" height="49.70" fill="#3333ff" shape-rendering="crispEdges"/>
<rect x="1076.70" y="1988.00" width="75.06" height="49.70" fill="#3333ff" shape-rendering="crispEdges"/>
<rect x="626.34" y="2037.70" width="75.06" height="49.70" fill="#3333ff" shape-rendering="crispEdges"/>
<rect x="851.52" y="2037.70" width="75.06" height="49.70" fill="#00ccff" shape-rendering="crispEdges"/>
<rect x="776.46" y="2087.40" width="75.06" height="49.70" fill="#0044ff" shape-rendering="crispEdges"/>
<rect x="1076.70" y="2087.40" width="75.06" height="49.70" fill="#00ccff" shape-rendering="crispEdges"/>
<rect x="401.16" y="2137.10" width="75.06" height="49.70" fill="#3333ff" shape-rendering="crispEdges"/>
<rect x="776.46" y="2137.10" width="75.06" height="49.70" fill="#ff3300" shape-rendering="crispEdges"/>
<rect x="401.16" y="2186.80" width="75.06" height="49.70" fill="#96ff00" shape-rendering="crispEdges"/>
<rect x="776.46" y="2186.80" width="75.06" height="49.70" fill="#00ccff" shape-rendering="crispEdges"/>
<rect x="851.52" y="2186.80" width="75.06" height="49.70" fill="#3333ff" shape-rendering="crispEdges"/>
<rect x="926.58" y="2186.80" width="75.06" height="49.70" fill="#ff3300" shape-rendering="crispEdges"/>
<rect x="1001.64" y="2186.80" width="75.06" height="49.70" fill="#0044ff" shape-rendering="crispEdges"/>
<rect x="401.16" y="2236.50" width="75.06" height="49.70" fill="#990000" shape-rendering="crispEdges"/>
<rect x="776.46" y="2236.50" width="75.06" height="49.70" fill="#3333ff" shape-rendering="crispEdges"/>
<rect x="851.52" y="2236.50" width="75.06" height="49.70" fill="#3333ff" shape-rendering="crispEdges"/>
<rect x="926.58" y="2236.50" width="75.06" height="49.70" fill="#00ccff" shape-rendering="crispEdges"/>
<rect x="476.22" y="2286.20" width="75.06" height="49.70" fill="#ffe600" shape-rendering="crispEdges"/>
<rect x="551.28" y="2286.20" width="75.06" height="49.70" fill="#00ccff" shape-rendering="crispEdges"/>
<rect x="776.46" y="2286.20" width="75.06" height="49.70" fill="#680000" shape-rendering="crispEdges"/>
<rect x="851.52" y="2286.20" width="75.06" height="49.70" fill="#3333ff" shape-rendering="crispEdges"/>
<rect x="926.58" y="2286.20" width="75.06" height="49.70" fill="#3333ff" shape-rendering="crispEdges"/>
<rect x="1076.70" y="2286.20" width="75.06" height="49.70" fill="#44ff00" shape-rendering="crispEdges"/>
<rect x="1151.76" y="2286.20" width="75.06" height="49.70" fill="#00ff66" shape-rendering="crispEdges"/>
<rect x="626.34" y="2335.90" width="75.06" height="49.70" fill="#0044ff" shape-rendering="crispEdges"/>
<rect x="701.40" y="2335.90" width="75.06" height="49.70" fill="#3333ff" shape-rendering="crispEdges"/>
<rect x="776.46" y="2335.90" width="75.06" height="49.70" fill="#3333ff" shape-rendering="crispEdges"/>
<rect x="851.52" y="2335.90" width="75.06" height="49.70" fill="#00ffc8" shape-rendering="crispEdges"/>
<rect x="926.58" y="2335.90" width="75.06" height="49.70" fill="#0044ff" shape-rendering="crispEdges"/>
<rect x="1001.64" y="2335.90" width="75.06" height="49.70" fill="#96ff00" shape-rendering="crispEdges"/>
<rect x="1076.70" y="2335.90" width="75.06" height="49.70" fill="#990000" shape-rendering="crispEdges"/>
<rect x="1151.76" y="2335.90" width="75.06" height="49.70" fill="#e00000" shape-rendering="crispEdges"/>
<rect x="476.22" y="2385.60" width="75.06" height="49.70" fill="#00ff66" shape-rendering="crispEdges"/>
<rect x="776.46" y="2385.60" width="75.06" height="49.70" fill="#00ff66" shape-rendering="crispEdges"/>
<rect x="851.52" y="2385.60" width="75.06" height="49.70" fill="#00f80a" shape-rendering="crispEdges"/>
<rect x="926.58" y="2385.60" width="75.06" height="49.70" fill="#00ccff" shape-rendering="crispEdges"/>
<rect x="1001.64" y="2385.60" width="75.06" height="49.70" fill="#3333ff" shape-rendering="crispEdges"/>
<rect x="1076.70" y="2385.60" width="75.06" height="49.70" fill="#00ffc8" shape-rendering="crispEdges"/>
<rect x="776.46" y="2435.30" width="75.06" height="49.70" fill="#3333ff" shape-rendering="crispEdges"/>
<rect x="851.52" y="2435.30" width="75.06" height="49.70" fill="#0044ff" shape-rendering="crispEdges"/>
<rect x="926.58" y="2435.30" width="75.06" height="49.70" fill="#00ffc8" shape-rendering="crispEdges"/>
<rect x="1001.64" y="2435.30" width="75.06" height="49.70" fill="#990000" shape-rendering="crispEdges"/>
<rect x="1076.70" y="2435.30" width="75.06" height="49.70" fill="#00ffc8" shape-rendering="crispEdges"/>
<text font-size="25" x="370.5" y="1855.9" transform="rotate(-90 370.5 1855.9)">SUH</text>
<polygon points="352.8,1868.6 374.4,1868.6 363.6,1887.2" fill="#ff0000"/>
<text font-size="25" x="445.6" y="1855.9" transform="rotate(-90 445.6 1855.9)">MIN</text>
<rect x="430.0" y="1866.0" width="17.4" height="17.4" fill="#00ff00" />
<text font-size="25" x="520.6" y="1855.9" transform="rotate(-90 520.6 1855.9)">AMN</text>
<polygon points="513.8,1862.6 524.5,1881.2 502.9,1881.2" fill="#4444f2"/>
<text font-size="25" x="595.7" y="1855.9" transform="rotate(-90 595.7 1855.9)">KLT</text>
<polygon points="588.8,1862.6 599.6,1881.2 578.0,1881.2" fill="#4444f2"/>
<text font-size="25" x="670.8" y="1855.9" transform="rotate(-90 670.8 1855.9)">PIR</text>
<polygon points="653.1,1868.6 674.7,1868.6 663.9,1887.2" fill="#ff0000"/>
<text font-size="25" x="745.8" y="1855.9" transform="rotate(-90 745.8 1855.9)">AND</text>
<polygon points="728.1,1868.6 749.7,1868.6 738.9,1887.2" fill="#ff0000"/>
<text font-size="25" x="820.9" y="1855.9" transform="rotate(-90 820.9 1855.9)">AGT</text>
<polygon points="803.2,1868.6 824.8,1868.6 814.0,1887.2" fill="#ff0000"/>
<text font-size="25" x="896.0" y="1855.9" transform="rotate(-90 896.0 1855.9)">KDT</text>
<polygon points="889.1,1862.6 899.9,1881.2 878.3,1881.2" fill="#4444f2"/>
<text font-size="25" x="971.0" y="1855.9" transform="rotate(-90 971.0 1855.9)">KVT</text>
<polygon points="953.3,1868.6 974.9,1868.6 964.1,1887.2" fill="#ff0000"/>
<text font-size="25" x="1046.1" y="1855.9" transform="rotate(-90 1046.1 1855.9)">KLP</text>
<polygon points="1028.4,1868.6 1050.0,1868.6 1039.2,1887.2" fill="#ff0000"/>
<text font-size="25" x="1121.1" y="1855.9" transform="rotate(-90 1121.1 1855.9)">BNG</text>
<polygon points="1103.4,1868.6 1125.0,1868.6 1114.2,1887.2" fill="#ff0000"/>
<text font-size="25" x="1196.2" y="1855.9" transform="rotate(-90 1196.2 1855.9)">PIT</text>
<polygon points="1178.5,1868.6 1200.1,1868.6 1189.3,1887.2" fill="#ff0000"/>
<text font-size="24.6" text-anchor="end" x="293.4" y="1920.4">SSP</text>
<rect x="305.4" y="1907.0" width="13.6" height="13.6" fill="none" stroke="#0000ff" stroke-width="4.0" />
<text font-size="24.6" text-anchor="end" x="293.4" y="1970.1">PMB</text>
<polygon points="312.2,1954.4 320.2,1968.2 304.2,1968.2" fill="none" stroke="#00ff00" stroke-width="3.2"/>
<text font-size="24.6" text-anchor="end" x="293.4" y="2019.8">CMF</text>
<polygon points="312.2,2004.1 320.2,2017.9 304.2,2017.9" fill="none" stroke="#00ff00" stroke-width="3.2"/>
<text font-size="24.6" text-anchor="end" x="293.4" y="2069.5">CMT</text>
<polygon points="312.2,2053.8 320.2,2067.6 304.2,2067.6" fill="none" stroke="#00ff00" stroke-width="3.2"/>
<text font-size="24.6" text-anchor="end" x="293.4" y="2119.2">PDT</text>
<polygon points="312.2,2103.6 320.2,2117.3 304.2,2117.3" fill="none" stroke="#00ff00" stroke-width="3.2"/>
<text font-size="24.6" text-anchor="end" x="293.4" y="2168.9">LPM</text>
<rect x="305.4" y="2155.5" width="13.6" height="13.6" fill="none" stroke="#0000ff" stroke-width="4.0" />
<text font-size="24.6" text-anchor="end" x="293.4" y="2218.7">SIN</text>
<rect x="305.4" y="2205.2" width="13.6" height="13.6" fill="none" stroke="#0000ff" stroke-width="4.0" />
<text font-size="24.6" text-anchor="end" x="293.4" y="2268.3">STP</text>
<rect x="305.4" y="2254.9" width="13.6" height="13.6" fill="none" stroke="#0000ff" stroke-width="4.0" />
<text font-size="24.6" text-anchor="end" x="293.4" y="2318.1">HRP</text>
<polygon points="312.2,2302.7 320.6,2311.1 312.2,2319.5 303.8,2311.1" fill="none" stroke="#ff0000" stroke-width="3.2"/>
<text font-size="24.6" text-anchor="end" x="293.4" y="2367.8">TCR</text>
<polygon points="303.9,2355.8 320.5,2355.8 312.2,2370.2" fill="none" stroke="#ff00ff" stroke-width="2.8"/>
<text font-size="24.6" text-anchor="end" x="293.4" y="2417.4">PGR</text>
<polygon points="312.2,2401.8 320.2,2415.5 304.2,2415.5" fill="none" stroke="#00ff00" stroke-width="3.2"/>
<text font-size="24.6" text-anchor="end" x="293.4" y="2467.2">CBL</text>
<circle cx="312.2" cy="2460.2" r="6.9" fill="none" stroke="#00ffff" stroke-width="3.6"/>
<polyline points="363.6,1789.3 363.6,1679.0 842.1,1679.0 842.1,1690.7" fill="none" stroke="#606060" stroke-width="1" shape-rendering="crispEdges"/>
<polyline points="438.7,1789.3 438.7,1679.0" fill="none" stroke="#606060" stroke-width="1" shape-rendering="crispEdges"/>
<polyline points="551.3,1679.0 551.3,1732.3" fill="none" stroke="#606060" stroke-width="1" shape-rendering="crispEdges"/>
<polyline points="513.8,1789.3 513.8,1732.3 588.8,1732.3 588.8,1789.3" fill="none" stroke="#606060" stroke-width="1" shape-rendering="crispEdges"/>
<polyline points="663.9,1789.3 663.9,1743.7 738.9,1743.7 738.9,1789.3" fill="none" stroke="#606060" stroke-width="1" shape-rendering="crispEdges"/>
<polyline points="701.4,1743.7 701.4,1690.7 982.9,1690.7 982.9,1707.7" fill="none" stroke="#606060" stroke-width="1" shape-rendering="crispEdges"/>
<polyline points="870.3,1736.0 870.3,1707.7 1095.5,1707.7 1095.5,1719.0" fill="none" stroke="#606060" stroke-width="1" shape-rendering="crispEdges"/>
<polyline points="814.0,1789.3 814.0,1736.0 926.6,1736.0 926.6,1748.3" fill="none" stroke="#606060" stroke-width="1" shape-rendering="crispEdges"/>
<polyline points="889.1,1789.3 889.1,1748.3 964.1,1748.3 964.1,1789.3" fill="none" stroke="#606060" stroke-width="1" shape-rendering="crispEdges"/>
<polyline points="1039.2,1789.3 1039.2,1719.0 1151.8,1719.0 1151.8,1747.3" fill="none" stroke="#606060" stroke-width="1" shape-rendering="crispEdges"/>
<polyline points="1114.2,1789.3 1114.2,1747.3 1189.3,1747.3 1189.3,1789.3" fill="none" stroke="#606060" stroke-width="1" shape-rendering="crispEdges"/>
<line x1="327.7" y1="1679.3" x2="327.7" y2="1786.0" stroke="#666" stroke-width="1"  shape-rendering="crispEdges"/>
<line x1="316.7" y1="1679.3" x2="327.7" y2="1679.3" stroke="#ddd" stroke-width="1"  shape-rendering="crispEdges"/>
<text font-size="11" text-anchor="end" font-weight="bold" x="308.5" y="1683.2">0</text>
<line x1="316.7" y1="1700.6" x2="327.7" y2="1700.6" stroke="#ddd" stroke-width="1"  shape-rendering="crispEdges"/>
<text font-size="11" text-anchor="end" font-weight="bold" x="308.5" y="1704.5">20</text>
<line x1="316.7" y1="1722.0" x2="327.7" y2="1722.0" stroke="#ddd" stroke-width="1"  shape-rendering="crispEdges"/>
<text font-size="11" text-anchor="end" font-weight="bold" x="308.5" y="1725.9">40</text>
<line x1="316.7" y1="1743.3" x2="327.7" y2="1743.3" stroke="#ddd" stroke-width="1"  shape-rendering="crispEdges"/>
<text font-size="11" text-anchor="end" font-weight="bold" x="308.5" y="1747.2">60</text>
<line x1="316.7" y1="1764.7" x2="327.7" y2="1764.7" stroke="#ddd" stroke-width="1"  shape-rendering="crispEdges"/>
<text font-size="11" text-anchor="end" font-weight="bold" x="308.5" y="1768.6">80</text>
<line x1="316.7" y1="1786.0" x2="327.7" y2="1786.0" stroke="#ddd" stroke-width="1"  shape-rendering="crispEdges"/>
<text font-size="11" text-anchor="end" font-weight="bold" x="308.5" y="1789.9">100</text>
<polyline points="228.3,1913.4 117.1,1913.4 117.1,2045.1 119.6,2045.1" fill="none" stroke="#606060" stroke-width="1" shape-rendering="crispEdges"/>
<polyline points="228.3,1963.1 119.6,1963.1 119.6,2127.0 128.9,2127.0" fill="none" stroke="#606060" stroke-width="1" shape-rendering="crispEdges"/>
<polyline points="150.3,2037.7 128.9,2037.7 128.9,2216.3 141.0,2216.3" fill="none" stroke="#606060" stroke-width="1" shape-rendering="crispEdges"/>
<polyline points="228.3,2012.8 150.3,2012.8 150.3,2062.5 228.3,2062.5" fill="none" stroke="#606060" stroke-width="1" shape-rendering="crispEdges"/>
<polyline points="152.1,2137.1 141.0,2137.1 141.0,2295.5 152.1,2295.5" fill="none" stroke="#606060" stroke-width="1" shape-rendering="crispEdges"/>
<polyline points="228.3,2112.2 152.1,2112.2 152.1,2161.9 228.3,2161.9" fill="none" stroke="#606060" stroke-width="1" shape-rendering="crispEdges"/>
<polyline points="193.1,2236.5 152.1,2236.5 152.1,2354.5 165.9,2354.5" fill="none" stroke="#606060" stroke-width="1" shape-rendering="crispEdges"/>
<polyline points="228.3,2211.7 193.1,2211.7 193.1,2261.3 228.3,2261.3" fill="none" stroke="#606060" stroke-width="1" shape-rendering="crispEdges"/>
<polyline points="228.3,2311.1 165.9,2311.1 165.9,2398.0 175.0,2398.0" fill="none" stroke="#606060" stroke-width="1" shape-rendering="crispEdges"/>
<polyline points="228.3,2360.8 175.0,2360.8 175.0,2435.3 185.5,2435.3" fill="none" stroke="#606060" stroke-width="1" shape-rendering="crispEdges"/>
<polyline points="228.3,2410.4 185.5,2410.4 185.5,2460.2 228.3,2460.2" fill="none" stroke="#606060" stroke-width="1" shape-rendering="crispEdges"/>
<line x1="118.3" y1="1878.7" x2="230.7" y2="1878.7" stroke="#666" stroke-width="1"  shape-rendering="crispEdges"/>
<line x1="132.7" y1="1870.0" x2="132.7" y2="1878.7" stroke="#ddd" stroke-width="1"  shape-rendering="crispEdges"/>
<text font-size="11" text-anchor="middle" font-weight="bold" transform="translate(136.9 1857.2) scale(1.08 1) rotate(-90)">20</text>
<line x1="157.2" y1="1870.0" x2="157.2" y2="1878.7" stroke="#ddd" stroke-width="1"  shape-rendering="crispEdges"/>
<text font-size="11" text-anchor="middle" font-weight="bold" transform="translate(161.4 1857.2) scale(1.08 1) rotate(-90)">40</text>
<line x1="181.7" y1="1870.0" x2="181.7" y2="1878.7" stroke="#ddd" stroke-width="1"  shape-rendering="crispEdges"/>
<text font-size="11" text-anchor="middle" font-weight="bold" transform="translate(185.9 1857.2) scale(1.08 1) rotate(-90)">60</text>
<line x1="206.2" y1="1870.0" x2="206.2" y2="1878.7" stroke="#ddd" stroke-width="1"  shape-rendering="crispEdges"/>
<text font-size="11" text-anchor="middle" font-weight="bold" transform="translate(210.4 1857.2) scale(1.08 1) rotate(-90)">80</text>
<line x1="230.7" y1="1870.0" x2="230.7" y2="1878.7" stroke="#ddd" stroke-width="1"  shape-rendering="crispEdges"/>
<text font-size="11" text-anchor="middle" font-weight="bold" transform="translate(234.9 1857.2) scale(1.08 1) rotate(-90)">100</text>
</g>
</svg>
</body></html>
